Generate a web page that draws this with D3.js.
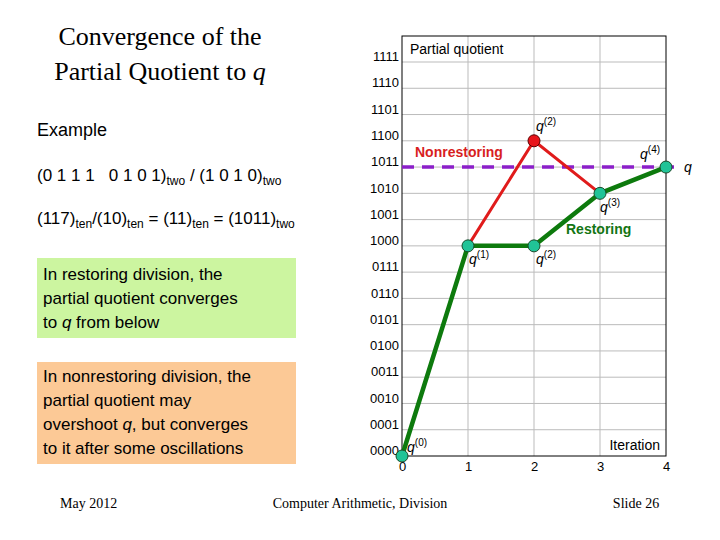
<!DOCTYPE html>
<html><head><meta charset="utf-8">
<script src="https://cdn.jsdelivr.net/npm/d3@7"></script>
<style>body{margin:0;background:#fff}</style>
</head><body><div id="chart"></div>
<script>
const iterations = [0, 1, 2, 3, 4];
const restoring = [0, 8, 8, 10, 11];
const nonrestoringIter = [1, 2, 3];
const nonrestoring = [8, 12, 10];
const yTicks = d3.range(0, 16);
const qValue = 11;

const svg = d3.select('#chart').append('svg').attr('width', 720).attr('height', 540);
const x = d3.scaleLinear().domain([0, 4]).range([402, 666]);
const y = d3.scaleLinear().domain([0, 15]).range([456, 62]);
const sans = 'Arial, Liberation Sans, sans-serif';
const serif = 'Times New Roman, Liberation Serif, serif';

// grid
svg.append('g').selectAll('line').data(yTicks.slice(1)).join('line')
	.attr('x1', x(0)).attr('x2', x(4)).attr('y1', d => y(d)).attr('y2', d => y(d))
	.attr('stroke', '#bbb');
svg.append('g').selectAll('line').data([1, 2, 3]).join('line')
	.attr('x1', d => x(d)).attr('x2', d => x(d)).attr('y1', 36).attr('y2', y(0))
	.attr('stroke', '#bbb');
svg.append('rect').attr('x', x(0)).attr('y', 36).attr('width', x(4) - x(0)).attr('height', y(0) - 36)
	.attr('fill', 'none').attr('stroke', '#000');

const yAxis = svg.append('g').attr('transform', `translate(${x(0)},0)`)
	.call(d3.axisLeft(y).tickValues(yTicks).tickSize(0).tickPadding(3)
		.tickFormat(d => d.toString(2).padStart(4, '0')));
yAxis.select('.domain').remove();
yAxis.selectAll('text').attr('font-family', sans).attr('font-size', 13).attr('dy', '-0.1em');
const xAxis = svg.append('g').attr('transform', `translate(0,${y(0)})`)
	.call(d3.axisBottom(x).tickValues(iterations).tickSize(0).tickPadding(6).tickFormat(d3.format('d')));
xAxis.select('.domain').remove();
xAxis.selectAll('text').attr('font-family', sans).attr('font-size', 13);

svg.append('text').attr('x', 410).attr('y', 54).attr('font-family', sans).attr('font-size', 14).text('Partial quotient');
svg.append('text').attr('x', 660).attr('y', 450).attr('text-anchor', 'end').attr('font-family', sans).attr('font-size', 14).text('Iteration');

// q line
svg.append('line').attr('x1', x(0)).attr('x2', x(4) + 10).attr('y1', y(qValue)).attr('y2', y(qValue))
	.attr('stroke', '#8b1fc9').attr('stroke-width', 3.5).attr('stroke-dasharray', '12,8');
svg.append('text').attr('x', 684).attr('y', y(qValue) + 5).attr('font-family', sans).attr('font-style', 'italic').attr('font-size', 14).text('q');

const line = d3.line().x(d => x(d[0])).y(d => y(d[1]));
const nr = [[1, 8]].concat(nonrestoringIter.map((d, i) => [d, nonrestoring[i]]));
svg.append('path').attr('d', line(nr)).attr('fill', 'none').attr('stroke', '#e01b1b').attr('stroke-width', 3);
const rs = iterations.map((d, i) => [d, restoring[i]]);
svg.append('path').attr('d', line(rs)).attr('fill', 'none').attr('stroke', '#0d7a0d').attr('stroke-width', 4.5);

svg.selectAll('.pt').data(rs).join('circle')
	.attr('cx', d => x(d[0])).attr('cy', d => y(d[1])).attr('r', 6)
	.attr('fill', '#21c397').attr('stroke', '#1a4a2a');
svg.append('circle').attr('cx', x(2)).attr('cy', y(12)).attr('r', 6).attr('fill', '#e8141a').attr('stroke', '#5a0000');

const lab = (px, py, n) => {
	const t = svg.append('text').attr('x', px).attr('y', py).attr('font-family', sans).attr('font-size', 14);
	t.append('tspan').attr('font-style', 'italic').text('q');
	t.append('tspan').attr('dy', -6).attr('font-size', 10).text(`(${n})`);
};
lab(407, y(0) - 4, 0);
lab(469, y(8) + 18, 1);
lab(536, y(8) + 18, 2);
lab(536, y(12) - 10, 2);
lab(600, y(10) + 19, 3);
lab(640, y(11) - 8, 4);
svg.append('text').attr('x', 415).attr('y', 157).attr('fill', '#d81e1e').attr('font-weight', 'bold').attr('font-family', sans).attr('font-size', 14).text('Nonrestoring');
svg.append('text').attr('x', 566).attr('y', 234).attr('fill', '#137513').attr('font-weight', 'bold').attr('font-family', sans).attr('font-size', 14).text('Restoring');

// left panel
[['Convergence of the', 45], ['Partial Quotient to ', 80]].forEach(([t, py], i) => {
	const e = svg.append('text').attr('x', 160).attr('y', py).attr('text-anchor', 'middle')
		.attr('font-family', serif).attr('font-size', 26).text(t);
	if (i === 1) e.append('tspan').attr('font-style', 'italic').text('q');
});
svg.append('text').attr('x', 37).attr('y', 136).attr('font-family', sans).attr('font-size', 18).text('Example');
const sub = (px, py, parts) => {
	const t = svg.append('text').attr('x', px).attr('y', py).attr('font-family', sans).attr('font-size', 17).attr('xml:space', 'preserve');
	parts.forEach(p => {
		const s = t.append('tspan').text(p[0]);
		if (p[1]) s.attr('font-size', 12).attr('dy', 4);
		else s.attr('dy', p[2] ? -4 : 0);
	});
};
sub(37, 181, [['(0 1 1 1   0 1 0 1)'], ['two', 1], [' / (1 0 1 0)', 0, 1], ['two', 1]]);
sub(37, 224, [['(117)'], ['ten', 1], ['/(10)', 0, 1], ['ten', 1], [' = (11)', 0, 1], ['ten', 1], [' = (1011)', 0, 1], ['two', 1]]);

svg.append('rect').attr('x', 37).attr('y', 258).attr('width', 259).attr('height', 80).attr('fill', '#ccf5a0');
['In restoring division, the', 'partial quotient converges'].forEach((t, i) =>
	svg.append('text').attr('x', 43).attr('y', 280 + i * 24).attr('font-family', sans).attr('font-size', 17).text(t));
const cb = svg.append('text').attr('x', 43).attr('y', 328).attr('font-family', sans).attr('font-size', 17).text('to ');
cb.append('tspan').attr('font-style', 'italic').text('q');
cb.append('tspan').text(' from below');

svg.append('rect').attr('x', 37).attr('y', 362).attr('width', 259).attr('height', 102).attr('fill', '#fcc996');
svg.append('text').attr('x', 43).attr('y', 382).attr('font-family', sans).attr('font-size', 17).text('In nonrestoring division, the');
svg.append('text').attr('x', 43).attr('y', 406).attr('font-family', sans).attr('font-size', 17).text('partial quotient may');
const os = svg.append('text').attr('x', 43).attr('y', 430).attr('font-family', sans).attr('font-size', 17).text('overshoot ');
os.append('tspan').attr('font-style', 'italic').text('q');
os.append('tspan').text(', but converges');
svg.append('text').attr('x', 43).attr('y', 454).attr('font-family', sans).attr('font-size', 17).text('to it after some oscillations');

// footer
svg.append('text').attr('x', 60).attr('y', 508).attr('font-family', serif).attr('font-size', 14).text('May 2012');
svg.append('text').attr('x', 360).attr('y', 508).attr('text-anchor', 'middle').attr('font-family', serif).attr('font-size', 14).text('Computer Arithmetic, Division');
svg.append('text').attr('x', 636).attr('y', 508).attr('text-anchor', 'middle').attr('font-family', serif).attr('font-size', 14).text('Slide 26');
</script></body></html>
